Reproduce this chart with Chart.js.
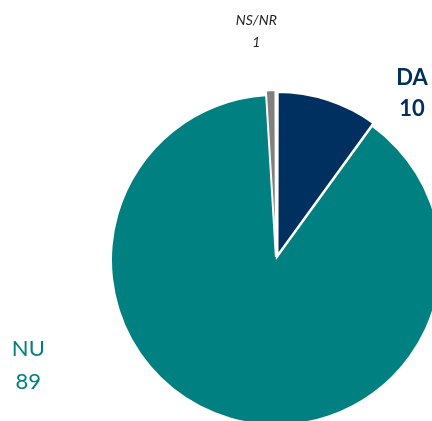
<!DOCTYPE html>
<html><head><meta charset="utf-8">
<style>html,body{margin:0;padding:0;background:#fff;overflow:hidden}#wrap{width:432px;height:421px}</style>
<script src="https://cdn.jsdelivr.net/npm/chart.js@4"></script>
</head><body><div id="wrap"><canvas id="c" width="432" height="421"></canvas></div>
<script>
const categories = ["DA", "NU", "NS/NR"];
const values = [10, 89, 1];
const colors = ["#003060", "#008080", "#808080"];
const textColors = ["#003060", "#008080", "#222222"];

const labelPlugin = {
  id: 'sliceLabels',
  afterDraw(chart, args, opts) {
    const ctx = chart.ctx;
    const meta = chart.getDatasetMeta(0);
    const arc0 = meta.data[0];
    const cx = arc0.x, cy = arc0.y, r = arc0.outerRadius;
    opts.items.forEach((it, i) => {
      const x = cx + it.dx * r, y = cy + it.dy * r;
      ctx.save();
      ctx.fillStyle = textColors[i];
      ctx.font = it.font;
      ctx.textAlign = 'center';
      ctx.textBaseline = 'middle';
      ctx.fillText(categories[i], x, y);
      ctx.fillText(String(chart.data.datasets[0].data[i]), x, y + it.gap);
      ctx.restore();
    });
  }
};

new Chart(document.getElementById('c'), {
  type: 'pie',
  data: {
    labels: categories,
    datasets: [{
      data: values,
      backgroundColor: colors,
      borderColor: '#ffffff',
      borderWidth: [3, 0, 2],
      offset: [13, 0, 12]
    }]
  },
  options: {
    responsive: false,
    animation: false,
    radius: 164,
    layout: { padding: { left: 120, right: 0, top: 99, bottom: 0 } },
    plugins: {
      legend: { display: false },
      tooltip: { enabled: false },
      sliceLabels: {
        items: [
          { dx: 0.83, dy: -1.11, gap: 31, font: 'bold 22px Lato, "Open Sans", sans-serif' },
          { dx: -1.51, dy: 0.54, gap: 33, font: '22px Lato, "Open Sans", sans-serif' },
          { dx: -0.12, dy: -1.46, gap: 22, font: 'italic 14px Lato, "Open Sans", sans-serif' }
        ]
      }
    }
  },
  plugins: [labelPlugin]
});
</script></body></html>
